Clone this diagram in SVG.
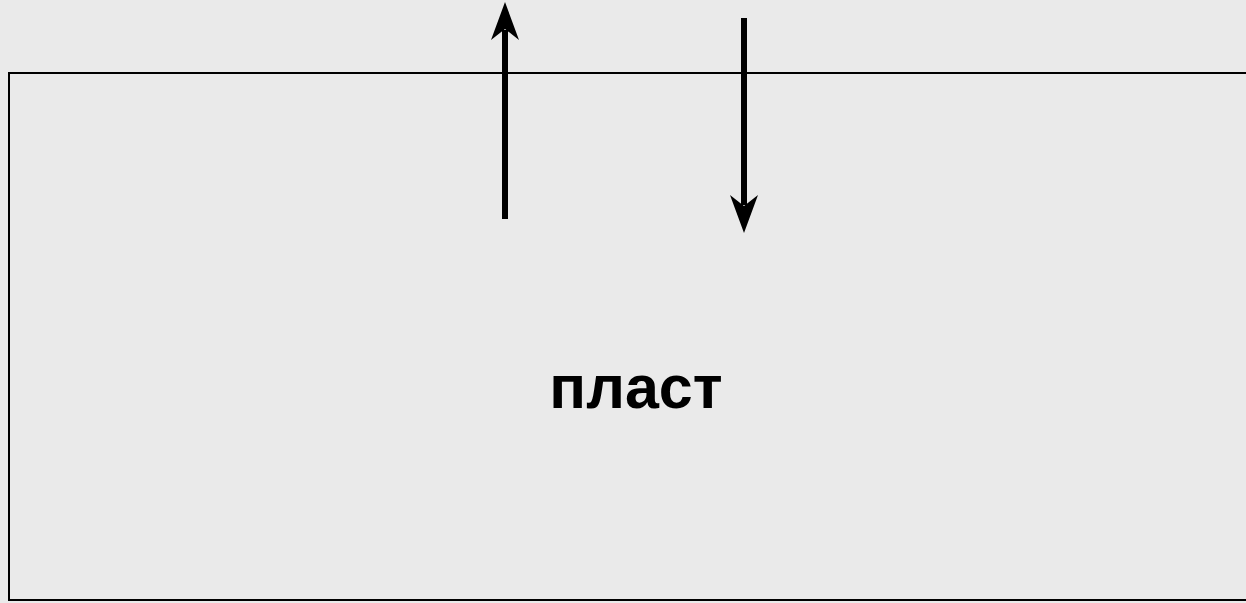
<svg xmlns="http://www.w3.org/2000/svg" width="1246" height="603" viewBox="0 0 1246 603">
<style>
.box{fill:#EAEAEA;stroke:#000;stroke-width:2}
.arr{stroke:#000;stroke-width:6;fill:none}
.head{fill:#000}
.lbl{font-family:"Liberation Sans",Arial,sans-serif;font-weight:bold;font-size:61px;fill:#000}
</style>
<rect width="1246" height="603" fill="#EAEAEA"/>
<g id="plast">
<rect class="box" x="9" y="73" width="1250" height="527"/>
<text class="lbl" x="636" y="408" text-anchor="middle">пласт</text>
</g>
<g id="connectors">
<line class="arr" x1="505" y1="219" x2="505" y2="30"/>
<path class="head" d="M505,2 L519,40 L505,29 L491,40 Z"/>
<line class="arr" x1="744" y1="18" x2="744" y2="205"/>
<path class="head" d="M744,233 L758,195 L744,206 L730,195 Z"/>
</g>
</svg>
